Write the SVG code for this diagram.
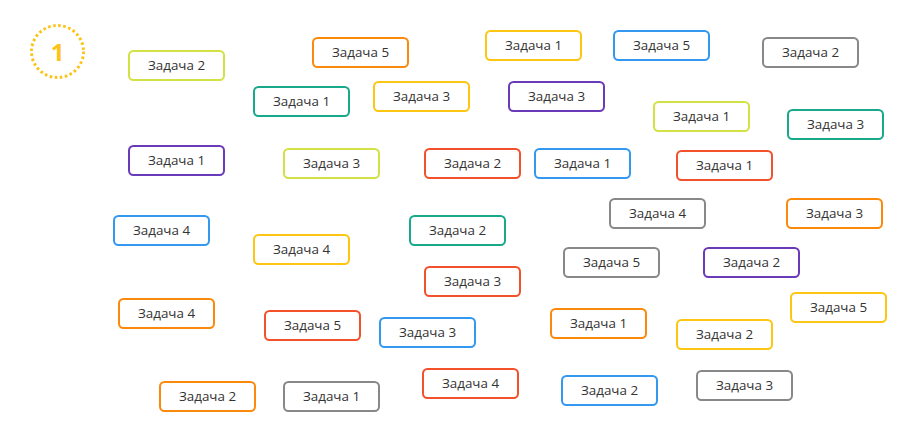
<svg xmlns="http://www.w3.org/2000/svg" width="917" height="439" viewBox="0 0 917 439">
<style>
.n rect{fill:#fff;stroke-width:2;rx:4.5;ry:4.5}
.n text{font-family:"Open Sans","Liberation Sans",sans-serif;font-size:13.4px;fill:#333;text-anchor:middle}
.lime rect{stroke:#d2e144}
.teal rect{stroke:#17a98a}
.purple rect{stroke:#6a3ab8}
.orange rect{stroke:#fb8a0c}
.yellow rect{stroke:#fdc613}
.red rect{stroke:#f3502c}
.blue rect{stroke:#3399f0}
.gray rect{stroke:#888888}
</style>
<rect width="917" height="439" fill="#fff"/>
<g id="badge">
<circle cx="57.5" cy="51.5" r="26" fill="none" stroke="#fcc419" stroke-width="3" stroke-dasharray="2.6 2.5"/>
<text x="57.5" y="60.5" font-family="'Open Sans','Liberation Sans',sans-serif" font-size="24" font-weight="bold" fill="#fcc419" text-anchor="middle">1</text>
</g>
<g id="connectors"></g>
<g id="n1" class="n lime"><rect x="129" y="51" width="95" height="29"/><text x="176.5" y="70">Задача 2</text></g>
<g id="n2" class="n teal"><rect x="254" y="87" width="95" height="29"/><text x="301.5" y="106">Задача 1</text></g>
<g id="n3" class="n orange"><rect x="313" y="38" width="95" height="29"/><text x="360.5" y="57">Задача 5</text></g>
<g id="n4" class="n yellow"><rect x="374" y="82" width="95" height="29"/><text x="421.5" y="101">Задача 3</text></g>
<g id="n5" class="n yellow"><rect x="486" y="31" width="95" height="29"/><text x="533.5" y="50">Задача 1</text></g>
<g id="n6" class="n purple"><rect x="509" y="82" width="95" height="29"/><text x="556.5" y="101">Задача 3</text></g>
<g id="n7" class="n blue"><rect x="614" y="31" width="95" height="29"/><text x="661.5" y="50">Задача 5</text></g>
<g id="n8" class="n gray"><rect x="763" y="38" width="95" height="29"/><text x="810.5" y="57">Задача 2</text></g>
<g id="n9" class="n lime"><rect x="654" y="102" width="95" height="29"/><text x="701.5" y="121">Задача 1</text></g>
<g id="n10" class="n teal"><rect x="788" y="110" width="95" height="29"/><text x="835.5" y="129">Задача 3</text></g>
<g id="n11" class="n purple"><rect x="129" y="146" width="95" height="29"/><text x="176.5" y="165">Задача 1</text></g>
<g id="n12" class="n lime"><rect x="284" y="149" width="95" height="29"/><text x="331.5" y="168">Задача 3</text></g>
<g id="n13" class="n red"><rect x="425" y="149" width="95" height="29"/><text x="472.5" y="168">Задача 2</text></g>
<g id="n14" class="n blue"><rect x="535" y="149" width="95" height="29"/><text x="582.5" y="168">Задача 1</text></g>
<g id="n15" class="n red"><rect x="677" y="151" width="95" height="29"/><text x="724.5" y="170">Задача 1</text></g>
<g id="n16" class="n gray"><rect x="610" y="199" width="95" height="29"/><text x="657.5" y="218">Задача 4</text></g>
<g id="n17" class="n orange"><rect x="787" y="199" width="95" height="29"/><text x="834.5" y="218">Задача 3</text></g>
<g id="n18" class="n blue"><rect x="114" y="216" width="95" height="29"/><text x="161.5" y="235">Задача 4</text></g>
<g id="n19" class="n yellow"><rect x="254" y="235" width="95" height="29"/><text x="301.5" y="254">Задача 4</text></g>
<g id="n20" class="n teal"><rect x="410" y="216" width="95" height="29"/><text x="457.5" y="235">Задача 2</text></g>
<g id="n21" class="n gray"><rect x="564" y="248" width="95" height="29"/><text x="611.5" y="267">Задача 5</text></g>
<g id="n22" class="n purple"><rect x="704" y="248" width="95" height="29"/><text x="751.5" y="267">Задача 2</text></g>
<g id="n23" class="n red"><rect x="425" y="267" width="95" height="29"/><text x="472.5" y="286">Задача 3</text></g>
<g id="n24" class="n orange"><rect x="119" y="299" width="95" height="29"/><text x="166.5" y="318">Задача 4</text></g>
<g id="n25" class="n red"><rect x="265" y="311" width="95" height="29"/><text x="312.5" y="330">Задача 5</text></g>
<g id="n26" class="n blue"><rect x="380" y="318" width="95" height="29"/><text x="427.5" y="337">Задача 3</text></g>
<g id="n27" class="n orange"><rect x="551" y="309" width="95" height="29"/><text x="598.5" y="328">Задача 1</text></g>
<g id="n28" class="n yellow"><rect x="677" y="320" width="95" height="29"/><text x="724.5" y="339">Задача 2</text></g>
<g id="n29" class="n yellow"><rect x="791" y="293" width="95" height="29"/><text x="838.5" y="312">Задача 5</text></g>
<g id="n30" class="n orange"><rect x="160" y="382" width="95" height="29"/><text x="207.5" y="401">Задача 2</text></g>
<g id="n31" class="n gray"><rect x="284" y="382" width="95" height="29"/><text x="331.5" y="401">Задача 1</text></g>
<g id="n32" class="n red"><rect x="423" y="369" width="95" height="29"/><text x="470.5" y="388">Задача 4</text></g>
<g id="n33" class="n blue"><rect x="562" y="376" width="95" height="29"/><text x="609.5" y="395">Задача 2</text></g>
<g id="n34" class="n gray"><rect x="697" y="371" width="95" height="29"/><text x="744.5" y="390">Задача 3</text></g>
</svg>
